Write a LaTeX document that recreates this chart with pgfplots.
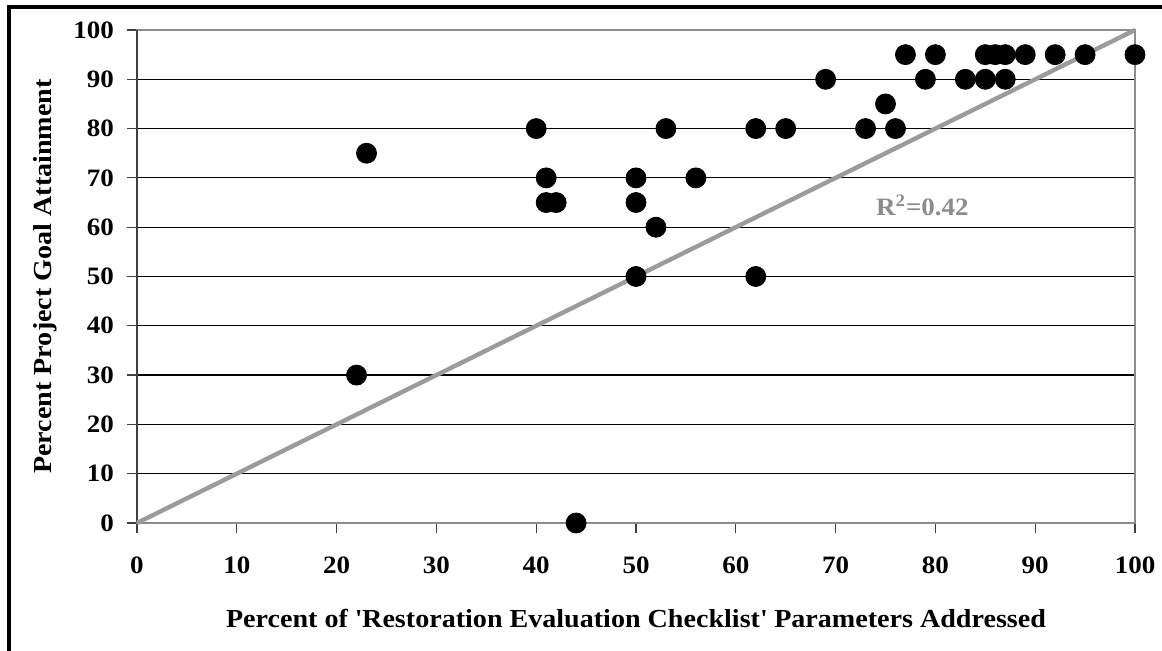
\documentclass[border=0pt]{standalone}
\usepackage{fontspec}
\setmainfont{Liberation Serif}[FakeStretch=1.08]
\usepackage{pgfplots}
\pgfplotsset{compat=1.18}
\definecolor{spine}{RGB}{140,140,140}
\definecolor{fitline}{RGB}{155,155,155}
\begin{document}
\begin{tikzpicture}
\useasboundingbox (-68.5pt,-64pt) rectangle (512.5pt,261.5pt);
\draw[line width=2pt] (-64.2pt,-70pt) -- (-64.2pt,258.2pt) -- (520pt,258.2pt);
\begin{axis}[
  at={(0,0)}, anchor=south west,
  scale only axis, width=499pt, height=246.5pt,
  xmin=0, xmax=100, ymin=0, ymax=100,
  xtick={0,10,...,100}, ytick={0,10,...,100},
  tick pos=left,
  tick align=outside, major tick length=5pt,
  tick style={draw=black!75, line width=0.6pt},
  ymajorgrids=true,
  grid style={draw=black, line width=0.6pt},
  axis line style={draw=spine, line width=0.9pt},
  /pgf/number format/assume math mode=true,
  ticklabel style={font=\fontsize{12.5}{14}\selectfont\bfseries},
  xticklabel style={yshift=-8.5pt},
  yticklabel style={xshift=-3pt},
  xlabel={Percent of \textquotesingle Restoration Evaluation Checklist\textquotesingle\ Parameters Addressed},
  ylabel={Percent Project Goal Attainment},
  label style={font=\fontsize{13}{15}\selectfont\bfseries},
  xlabel style={at={(axis description cs:0.5,-0.1947)}, anchor=center},
  ylabel style={at={(axis description cs:-0.0922,0.5)}, anchor=center, rotate=0},
  clip=false,
]
\draw[black!75, line width=0.9pt] (axis cs:0,0) -- (axis cs:0,100);
\addplot[fitline, line width=2.2pt, no marks] coordinates {(0,0) (100,100)};
\addplot[only marks, mark=*, mark size=5pt, black] coordinates {
(22,30) (23,75) (40,80) (41,70) (41,65) (42,65) (44,0)
(50,70) (50,65) (50,50) (52,60) (53,80) (56,70)
(62,80) (62,50) (65,80) (69,90) (73,80) (75,85) (76,80)
(77,95) (79,90) (80,95) (83,90) (85,95) (85,90) (86,95)
(87,95) (87,90) (89,95) (92,95) (95,95) (100,95)
};
\node[text=spine, font=\fontsize{12.5}{15}\selectfont\bfseries, anchor=center] at (axis cs:78.7,64.4) {R\textsuperscript{2}=0.42};
\end{axis}
\end{tikzpicture}
\end{document}
